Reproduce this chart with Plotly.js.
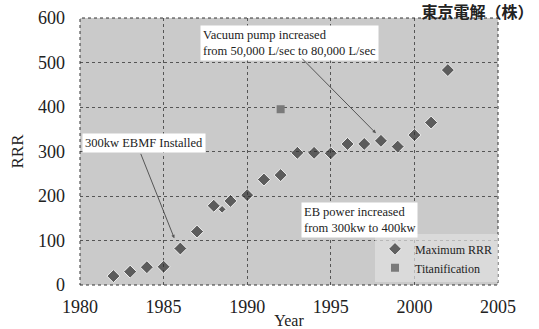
<!DOCTYPE html>
<html>
<head>
<meta charset="utf-8">
<script src="https://cdn.plot.ly/plotly-3.0.1.min.js"></script>
<style>html,body{margin:0;padding:0;background:#fff;}#chart{width:539px;height:329px;}</style>
</head>
<body>
<div id="chart"></div>
<script>
// Data
const years = [1982, 1983, 1984, 1985, 1986, 1987, 1988, 1988.5, 1989, 1990, 1991, 1992, 1993, 1994, 1995, 1996, 1997, 1998, 1999, 2000, 2001, 2002];
const maxRRR = [20, 30, 40, 41, 82, 120, 178, 170, 189, 202, 237, 247, 297, 297, 296, 317, 317, 324, 311, 337, 365, 483];
const titanYears = [1992];
const titanRRR = [395];
const xTicks = [1980, 1985, 1990, 1995, 2000, 2005];
const yTicks = [0, 100, 200, 300, 400, 500, 600];
const seriesNames = ["Maximum RRR", "Titanification"];
const chartTitle = "東京電解（株）";
const xTitle = "Year";
const yTitle = "RRR";
const notes = [
  {text: "300kw EBMF Installed", x: 1980.1, y: 318, tailX: 1983.6, tailY: 298, headX: 1985.64, headY: 105},
  {text: "Vacuum pump increased<br>from 50,000 L/sec to 80,000 L/sec", x: 1987.2, y: 543, tailX: 1993.2, tailY: 512, headX: 1997.7, headY: 341},
  {text: "EB power increased<br>from 300kw to 400kw", x: 1993.2, y: 146}
];

const serif = "Liberation Serif, Times New Roman, DejaVu Serif, serif";
const traces = [
  {
    x: years, y: maxRRR, type: 'scatter', mode: 'markers', name: seriesNames[0],
    marker: {symbol: 'diamond', color: '#2e2e2e', size: years.map(v => Number.isInteger(v) ? 10 : 6)}
  },
  {
    x: titanYears, y: titanRRR, type: 'scatter', mode: 'markers', name: seriesNames[1],
    marker: {symbol: 'square', color: '#7a7a7a', size: 8}
  }
];

const annotations = [];
notes.forEach(n => {
  annotations.push({
    x: n.x, y: n.y, xref: 'x', yref: 'y', text: n.text, showarrow: false,
    xanchor: 'left', yanchor: 'middle', align: 'left',
    bgcolor: '#ffffff', borderpad: 2,
    font: {family: serif, size: 12.5, color: '#222'}
  });
  if (n.headX !== undefined) {
    annotations.push({
      x: n.headX, y: n.headY, ax: n.tailX, ay: n.tailY, xref: 'x', yref: 'y', axref: 'x', ayref: 'y',
      text: '', showarrow: true, arrowhead: 2, arrowsize: 0.7, arrowwidth: 1, arrowcolor: '#555'
    });
  }
});

const layout = {
  width: 539, height: 329,
  margin: {l: 80, r: 41, t: 18, b: 44},
  paper_bgcolor: '#ffffff',
  plot_bgcolor: '#cacaca',
  showlegend: true,
  title: {
    text: '<b>' + chartTitle + '</b>', xref: 'container', yref: 'container',
    x: 0.99, xanchor: 'right', y: 0.963, yanchor: 'middle',
    font: {family: "Noto Sans CJK JP, sans-serif", size: 16, color: '#222'}
  },
  xaxis: {
    range: [1980, 2005], tickvals: xTicks, ticktext: xTicks.map(String),
    showgrid: true, gridcolor: '#555', griddash: 'dot', gridwidth: 1,
    zeroline: false, showline: false, ticks: '', ticklabelstandoff: 9,
    tickfont: {family: serif, size: 18, color: '#222'},
    title: {text: xTitle, standoff: 0, font: {family: serif, size: 16, color: '#222'}},
    automargin: false
  },
  yaxis: {
    range: [0, 600], tickvals: yTicks, ticktext: yTicks.map(String),
    showgrid: true, gridcolor: '#555', griddash: 'dot', gridwidth: 1,
    zeroline: false, showline: false, ticks: '', ticklabelstandoff: 14,
    tickfont: {family: serif, size: 18, color: '#222'},
    title: {text: yTitle, standoff: 10, font: {family: serif, size: 17, color: '#222'}},
    automargin: false
  },
  legend: {
    x: 1, y: 0.01, xanchor: 'right', yanchor: 'bottom',
    bgcolor: 'rgba(225,225,225,0.7)', borderwidth: 0,
    font: {family: serif, size: 12, color: '#222'},
    itemsizing: 'trace', tracegroupgap: 0, itemwidth: 30
  },
  shapes: [{
    type: 'rect', xref: 'paper', yref: 'paper', x0: 0, x1: 1, y0: 0, y1: 1,
    line: {color: '#333', width: 1, dash: 'dot'}
  }],
  annotations: annotations
};

Plotly.newPlot('chart', traces, layout, {staticPlot: true, displayModeBar: false});
</script>
</body>
</html>
